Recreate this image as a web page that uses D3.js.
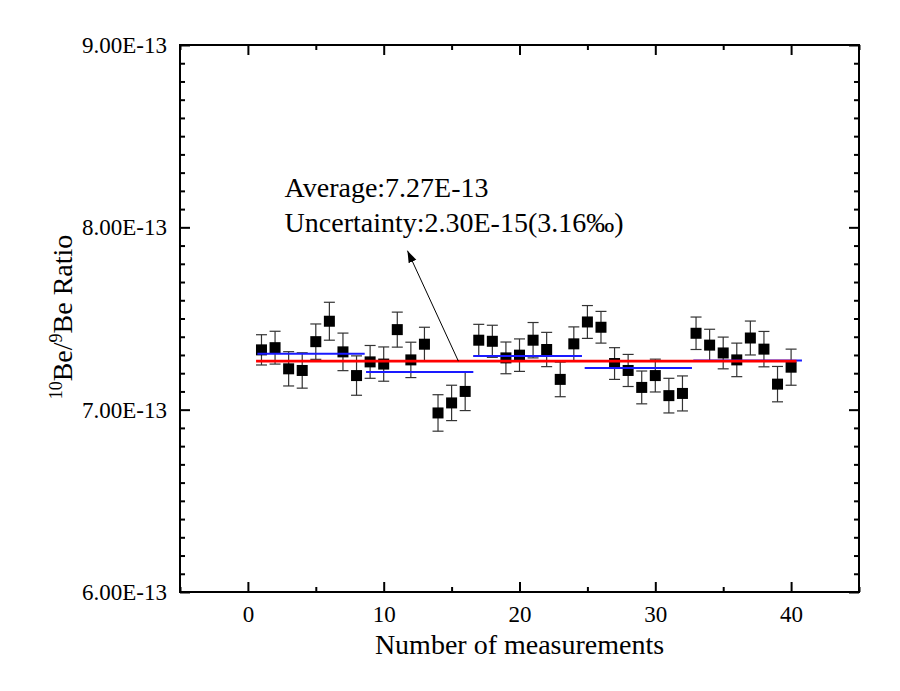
<!DOCTYPE html>
<html>
<head>
<meta charset="utf-8">
<script src="https://cdn.jsdelivr.net/npm/d3@7"></script>
<style>
  body { margin: 0; background: #fff; }
  svg text { font-family: "Liberation Serif", "Times New Roman", serif; fill: #000; }
</style>
</head>
<body>
<script>
// ratios in units of 1E-13
var measurement = d3.range(1, 41);
var ratio = [7.328, 7.340, 7.224, 7.215, 7.373, 7.485, 7.317, 7.187, 7.262, 7.250,
             7.439, 7.273, 7.359, 6.982, 7.037, 7.100, 7.381, 7.375, 7.284, 7.299,
             7.381, 7.330, 7.166, 7.361, 7.481, 7.452, 7.253, 7.215, 7.122, 7.187,
             7.077, 7.089, 7.419, 7.354, 7.311, 7.273, 7.393, 7.332, 7.140, 7.233];
var ratioErr = [0.083, 0.090, 0.094, 0.097, 0.097, 0.104, 0.103, 0.108, 0.090, 0.094,
                0.096, 0.097, 0.093, 0.100, 0.097, 0.105, 0.087, 0.088, 0.087, 0.089,
                0.097, 0.094, 0.095, 0.093, 0.090, 0.087, 0.087, 0.088, 0.090, 0.090,
                0.095, 0.096, 0.089, 0.087, 0.087, 0.092, 0.093, 0.097, 0.097, 0.099];

// group means (blue) and overall average (red)
var groupStart = [0.7, 8.7, 16.6, 24.8, 32.8];
var groupEnd   = [8.6, 16.6, 24.6, 32.7, 40.8];
var groupMean  = [7.306, 7.206, 7.295, 7.229, 7.269];
var average = 7.266;
var averageRange = [0.6, 40.4];

var xTicks = [0, 10, 20, 30, 40];
var xMinorTicks = [-5, 5, 15, 25, 35, 45];
var yTicks = [6, 7, 8, 9];
var yTickLabels = ["6.00E-13", "7.00E-13", "8.00E-13", "9.00E-13"];
var noteLines = ["Average:7.27E-13", "Uncertainty:2.30E-15(3.16\u2030)"];

var width = 900, height = 691;
var margin = {top: 45, right: 41, bottom: 99, left: 180};
var w = width - margin.left - margin.right,
    h = height - margin.top - margin.bottom;
var serif = "'Liberation Serif', 'Times New Roman', serif";

var svg = d3.select("body").append("svg")
    .attr("width", width)
    .attr("height", height);

var g = svg.append("g")
    .attr("transform", "translate(" + margin.left + "," + margin.top + ")");

var x = d3.scaleLinear().domain([-5, 45]).range([0, w]);
var y = d3.scaleLinear().domain([6, 9]).range([h, 0]);

var yMinor = d3.range(60, 91).map(function(d) { return d / 10; })
    .filter(function(d) { return yTicks.indexOf(d) < 0; });

function styleAxis(sel) {
  sel.attr("font-family", null).attr("font-size", null);
  sel.select(".domain").remove();
  sel.selectAll("line").attr("stroke", "#000").attr("stroke-width", 2);
  sel.selectAll("text").style("font-family", serif).style("font-size", "23px");
}

// bottom
g.append("g").attr("transform", "translate(0," + h + ")")
  .call(d3.axisBottom(x).tickValues(xTicks).tickSize(-10).tickPadding(14).tickFormat(d3.format("d")))
  .call(styleAxis)
  .selectAll("text").attr("dy", "0.71em");
g.append("g").attr("transform", "translate(0," + h + ")")
  .call(d3.axisBottom(x).tickValues(xMinorTicks).tickSize(-5).tickFormat(""))
  .call(styleAxis);
// top
g.append("g")
  .call(d3.axisTop(x).tickValues(xTicks).tickSize(-10).tickFormat(""))
  .call(styleAxis);
g.append("g")
  .call(d3.axisTop(x).tickValues(xMinorTicks).tickSize(-5).tickFormat(""))
  .call(styleAxis);
// left
g.append("g")
  .call(d3.axisLeft(y).tickValues(yTicks).tickSize(-10).tickPadding(13)
    .tickFormat(function(d, i) { return yTickLabels[i]; }))
  .call(styleAxis);
g.append("g")
  .call(d3.axisLeft(y).tickValues(yMinor).tickSize(-5).tickFormat(""))
  .call(styleAxis);
// right
g.append("g").attr("transform", "translate(" + w + ",0)")
  .call(d3.axisRight(y).tickValues(yTicks).tickSize(-10).tickFormat(""))
  .call(styleAxis);
g.append("g").attr("transform", "translate(" + w + ",0)")
  .call(d3.axisRight(y).tickValues(yMinor).tickSize(-5).tickFormat(""))
  .call(styleAxis);

g.append("rect")
  .attr("width", w).attr("height", h)
  .attr("fill", "none").attr("stroke", "#000").attr("stroke-width", 2);

// error bars
var pts = measurement.map(function(m, i) { return {m: m, v: ratio[i], e: ratioErr[i]}; });
var eb = g.append("g").attr("stroke", "#333").attr("stroke-width", 1.2);
eb.selectAll(".stem").data(pts).enter().append("line")
  .attr("x1", function(d) { return x(d.m); }).attr("x2", function(d) { return x(d.m); })
  .attr("y1", function(d) { return y(d.v - d.e); }).attr("y2", function(d) { return y(d.v + d.e); });
[-1, 1].forEach(function(s) {
  eb.selectAll(".cap" + s).data(pts).enter().append("line")
    .attr("x1", function(d) { return x(d.m) - 5.5; }).attr("x2", function(d) { return x(d.m) + 5.5; })
    .attr("y1", function(d) { return y(d.v + s * d.e); }).attr("y2", function(d) { return y(d.v + s * d.e); });
});

// squares
g.append("g").selectAll("rect").data(pts).enter().append("rect")
  .attr("x", function(d) { return x(d.m) - 5.5; })
  .attr("y", function(d) { return y(d.v) - 5.5; })
  .attr("width", 11).attr("height", 11)
  .attr("fill", "#000");

// group means
g.append("g").selectAll("line").data(groupMean).enter().append("line")
  .attr("x1", function(d, i) { return x(groupStart[i]); })
  .attr("x2", function(d, i) { return x(groupEnd[i]); })
  .attr("y1", function(d) { return y(d); }).attr("y2", function(d) { return y(d); })
  .attr("stroke", "#1a1aff").attr("stroke-width", 2);

// average
g.append("line")
  .attr("x1", x(averageRange[0])).attr("x2", x(averageRange[1]))
  .attr("y1", y(average)).attr("y2", y(average))
  .attr("stroke", "#ff0000").attr("stroke-width", 2.6);

// annotation arrow
svg.append("defs").append("marker")
  .attr("id", "head").attr("viewBox", "0 0 10 10")
  .attr("refX", 10).attr("refY", 5)
  .attr("markerWidth", 12).attr("markerHeight", 12)
  .attr("markerUnits", "userSpaceOnUse")
  .attr("orient", "auto")
  .append("path").attr("d", "M0,1.5L10,5L0,8.5Z").attr("fill", "#000");

g.append("line")
  .attr("x1", x(15.5)).attr("y1", y(average))
  .attr("x2", x(11.75)).attr("y2", y(7.872))
  .attr("stroke", "#000").attr("stroke-width", 1)
  .attr("marker-end", "url(#head)");

g.append("g").selectAll("text").data(noteLines).enter().append("text")
  .attr("x", x(2.7))
  .attr("y", function(d, i) { return y(8.166) + i * 35; })
  .style("font-family", serif).style("font-size", "28px")
  .text(function(d) { return d; });

// axis titles
svg.append("text")
  .attr("x", margin.left + x(20)).attr("y", 654)
  .attr("text-anchor", "middle").style("font-size", "28px")
  .text("Number of measurements");

var yl = svg.append("text")
  .attr("transform", "translate(72,317) rotate(-90)")
  .attr("text-anchor", "middle").style("font-size", "28px");
yl.append("tspan").style("font-size", "18px").attr("dy", -10).text("10");
yl.append("tspan").attr("dy", 10).text("Be/");
yl.append("tspan").style("font-size", "18px").attr("dy", -10).text("9");
yl.append("tspan").attr("dy", 10).text("Be Ratio");
</script>
</body>
</html>
